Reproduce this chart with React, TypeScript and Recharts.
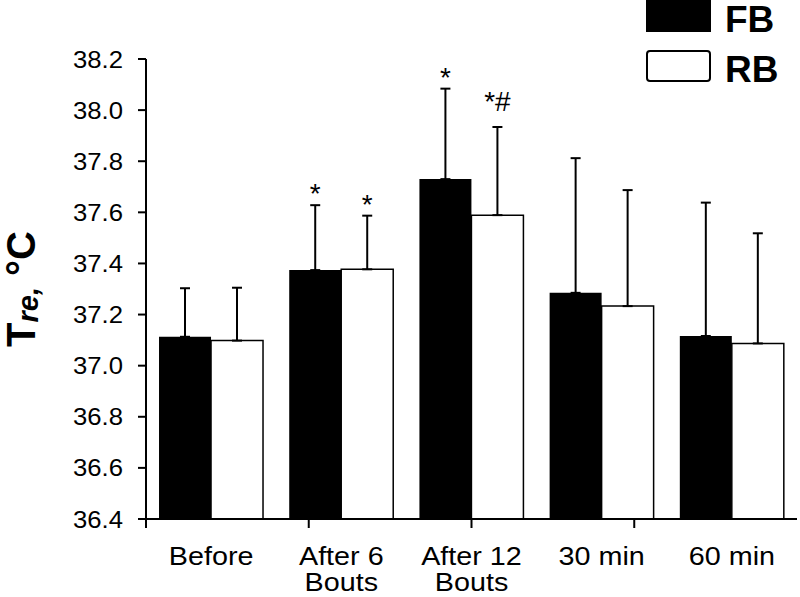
import React from 'react';
import { BarChart, Bar, XAxis, YAxis, ErrorBar, LabelList, Legend } from 'recharts';

const categories = ['Before', 'After 6\nBouts', 'After 12\nBouts', '30 min', '60 min'];
const fbMean = [37.113, 37.374, 37.73, 37.285, 37.116];
const fbSd = [0.19, 0.254, 0.354, 0.527, 0.522];
const rbMean = [37.098, 37.377, 37.589, 37.233, 37.087];
const rbSd = [0.207, 0.21, 0.345, 0.454, 0.431];
const fbMarks = ['', '*', '*', '', ''];
const rbMarks = ['', '*', '*#', '', ''];
const yTicks = [36.4, 36.6, 36.8, 37.0, 37.2, 37.4, 37.6, 37.8, 38.0, 38.2];
const edgeTicks = [0, 1, 2, 3, 4, 5];

const Y_MIN = 36.4;
const Y_MAX = 38.2;
const FONT = '"Liberation Sans", Arial, sans-serif';

const data = categories.map((name, i) => ({
  name,
  fb: fbMean[i],
  fbErr: [0, fbSd[i]],
  fbMark: fbMarks[i],
  rb: rbMean[i],
  rbErr: [0, rbSd[i]],
  rbMark: rbMarks[i],
}));

// puts the significance marks just above the top of the error bar
const markLabel = (meanKey: 'fb' | 'rb', sds: number[], marks: string[]) => (props: any) => {
  const vb = props.viewBox && props.viewBox.width != null ? props.viewBox : props;
  const idx = props.index;
  const mark = marks[idx];
  if (!mark) return null;
  const mean = data[idx][meanKey];
  const pxPerUnit = vb.height / (mean - Y_MIN);
  const errTop = vb.y - sds[idx] * pxPerUnit;
  const gap = mark.includes('#') ? 16 : 2;
  return (
    <text
      x={vb.x + vb.width / 2}
      y={errTop - gap}
      textAnchor="middle"
      fontFamily={FONT}
      fontSize={28}
      fill="#000"
    >
      {mark}
    </text>
  );
};

const YTick = (props: any) => {
  const { x, y, payload } = props;
  return (
    <text
      transform={`translate(${x},${y}) scale(1.07,1)`}
      textAnchor="end"
      dy="0.355em"
      fontFamily={FONT}
      fontSize={24}
      fill="#000"
    >
      {Number(payload.value).toFixed(1)}
    </text>
  );
};

const XTick = (props: any) => {
  const { x, y, payload } = props;
  const lines = String(payload.value).split('\n');
  return (
    <g transform={`translate(${x},${y}) scale(1.15,1)`}>
      <text textAnchor="middle" fontFamily={FONT} fontSize={25} fill="#000">
        {lines.map((l, i) => (
          <tspan key={i} x={0} y={36 + i * 26}>
            {l}
          </tspan>
        ))}
      </text>
    </g>
  );
};

const NoTick = () => <g />;

const YLabel = (props: any) => {
  const vb = props.viewBox;
  const cx = vb.x + 35;
  const cy = vb.y + vb.height / 2;
  return (
    <text
      transform={`rotate(-90, ${cx}, ${cy})`}
      x={cx}
      y={cy}
      textAnchor="middle"
      fontFamily={FONT}
      fontWeight="bold"
      fill="#000"
    >
      <tspan fontSize={40}>T</tspan>
      <tspan fontSize={29} fontStyle="italic" dy={3}>re,</tspan>
      <tspan fontSize={40} dy={-3}> °C</tspan>
    </text>
  );
};

const LegendBox = (props: any) => {
  const items = props.payload || [];
  return (
    <svg width={155} height={96} style={{ overflow: 'visible', display: 'block' }}>
      {items.map((entry: any, i: number) => {
        const fill = entry.payload?.fill || entry.color;
        const top = i * 50;
        return (
          <g key={entry.value}>
            <rect
              x={2}
              y={top + 1}
              width={63}
              height={30}
              rx={fill === '#000' ? 0 : 3}
              fill={fill}
              stroke="#000"
              strokeWidth={2}
            />
            <text x={80} y={top + 32} fontFamily={FONT} fontWeight="bold" fontSize={37} fill="#000">
              {entry.value}
            </text>
          </g>
        );
      })}
    </svg>
  );
};

export default function App() {
  const axisStroke = { stroke: '#000', strokeWidth: 2 };
  return (
    <div style={{ position: 'absolute', left: 0, top: 0, background: '#fff' }}>
      <BarChart
        width={800}
        height={597}
        data={data}
        margin={{ top: 59, right: 3, left: 0, bottom: 0 }}
        barCategoryGap="10%"
        barGap={0}
      >
        <XAxis
          xAxisId="a_edge"
          type="number"
          domain={[0, 5]}
          ticks={edgeTicks}
          allowDataOverflow
          height={10}
          tick={<NoTick />}
          tickSize={9}
          axisLine={axisStroke}
          tickLine={axisStroke}
        />
        <XAxis
          xAxisId="b_cat"
          dataKey="name"
          height={68}
          axisLine={false}
          tickLine={false}
          tickSize={0}
          tickMargin={0}
          interval={0}
          tick={<XTick />}
        />
        <YAxis
          width={146}
          domain={[Y_MIN, Y_MAX]}
          ticks={yTicks}
          allowDataOverflow
          tickSize={8}
          tickMargin={15}
          axisLine={axisStroke}
          tickLine={axisStroke}
          tick={<YTick />}
          label={{ content: <YLabel /> }}
        />
        <Legend
          layout="vertical"
          align="center"
          verticalAlign="middle"
          wrapperStyle={{ top: 0, left: 645, width: 155 }}
          content={<LegendBox />}
        />
        <Bar xAxisId="b_cat" dataKey="fb" name="FB" fill="#000" isAnimationActive={false}>
          <ErrorBar dataKey="fbErr" direction="y" width={5} stroke="#000" strokeWidth={2} />
          <LabelList dataKey="fbMark" content={markLabel('fb', fbSd, fbMarks)} />
        </Bar>
        <Bar
          xAxisId="b_cat"
          dataKey="rb"
          name="RB"
          fill="#fff"
          stroke="#000"
          strokeWidth={1.5}
          isAnimationActive={false}
        >
          <ErrorBar dataKey="rbErr" direction="y" width={5} stroke="#000" strokeWidth={2} />
          <LabelList dataKey="rbMark" content={markLabel('rb', rbSd, rbMarks)} />
        </Bar>
      </BarChart>
    </div>
  );
}
